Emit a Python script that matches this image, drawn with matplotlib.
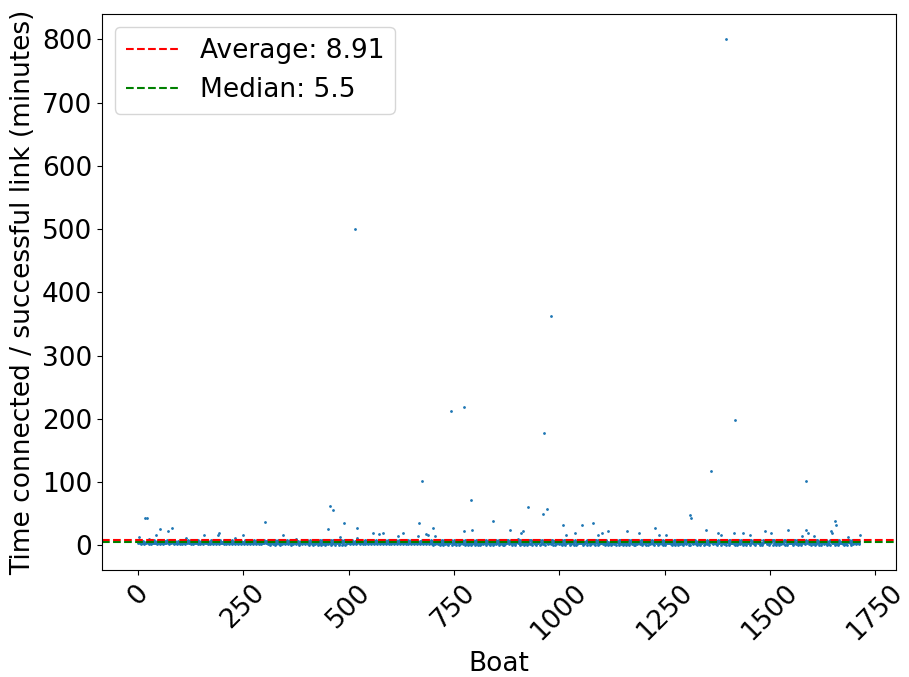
import matplotlib
matplotlib.use("Agg")
import matplotlib.pyplot as plt
import numpy as np

# typical minutes per boat (one char per boat, a=10, b=11, c=12)
bulk_minutes = """
4657345263 5734628453 3564724a36 4273654835 6345275643 5462374538 2645736458 3746253647 5384625374 6524736452
5374625843 4625b74658 3745628374 5263748536 4728354627 3845726354 8364527345 6273845362 7458362745 3627485364
6352847362 5473829465 3748265347 2b58463725 4638275463 7254836472 5384726359 4627358462 7358462735 4862735486
3527463592 4731654873 6254718265 4738256173 8256493825 3473825647 6825147382 5647a82564 7312564738 2564738296
8472615394 5627381946 2738495162 7384615927 4651738294 5629374815 6273849516 3748591627 4859162738 5916273849
3456247385 6243857263 4c58362745 8362547382 6574832657 4382657438 2657483265 7483265748 3265748326 5748326574
2635478263 5487263548 7263548726 3548726354 8726354872 6354872635 4872635487 2635487263 5487263548 7263548726
5163827495 3827469153 6294718352 4937281564 7382914653 2846173958 4619283745 8273649152 3956182473 6182739451
4728365194 6391827456 2847361935 7462918354 3819274659 5274639182 4963827154 1827364958 6293748156 3748291657
5a37462815 3829467152 7461835294 2938471563 6482917354 3759182643 8264739158 4917263845 2384916573 7152839462
6384729156 4291837564 8573619248 3947162835 5162839474 7839246153 2465718396 9381625437 4726391854 6158237493
3857264913 7294615832 4618392755 2943718564 5381947263 8162735941 3749281654 6927354183 1584723964 7236491853
4952837165 6173829454 3826471953 5947318264 7382651947 2619483753 8473629154 3592817463 6148392756 4726158394
2839465173 5174836294 7938261547 4265193876 3591847263 6827314958 1946372854 8352719464 4791628353 5263948175
7629183544 3485726193 6153928475 2947368154 8261735949 4718293654 3692817456 5837461923 2416937585 6973285144
4352697183 8726154394 5193847265 3648219757 7215938464 4837162953 6924583714 2581739466 9437261853 3762948155
5842763194 2968371545 7316485923 4593827164 6281749355 3947615283 8172936454 5638294172 2749163858 6415387294
348526473 562475
"""
bulk_minutes = [int(c, 16) for c in "".join(bulk_minutes.split())]

# boats far above the typical band
outlier_boats = [3, 16, 20, 43, 51, 70, 81, 157, 189, 193, 250, 302, 345, 450, 455, 462,
                 479, 488, 514, 519, 558, 571, 582, 618, 629, 664, 668, 673, 683, 688,
                 700, 706, 743, 773, 774, 790, 792, 843, 882, 910, 913, 925, 962, 965,
                 972, 981, 1009, 1016, 1038, 1054, 1080, 1092, 1101, 1117, 1161, 1189,
                 1228, 1238, 1254, 1310, 1313, 1348, 1360, 1378, 1385, 1396, 1414, 1418,
                 1436, 1454, 1488, 1503, 1543, 1576, 1585, 1586, 1590, 1605, 1645, 1648,
                 1654, 1658, 1686, 1714]
outlier_minutes = [13, 44, 43, 16, 26, 23, 28, 16, 17, 20, 17, 37, 17, 26, 63, 56,
                   14, 35, 500, 28, 19, 18, 20, 15, 20, 15, 35, 101, 18, 17,
                   28, 15, 213, 218, 22, 72, 25, 39, 25, 19, 22, 61, 49, 177,
                   58, 362, 33, 17, 19, 33, 36, 17, 19, 23, 22, 19,
                   27, 17, 16, 48, 43, 25, 118, 19, 17, 800, 19, 198,
                   19, 17, 23, 19, 25, 15, 25, 102, 19, 15, 22, 20,
                   39, 33, 13, 17]

average = 8.91
median = 5.5

minutes = np.array(bulk_minutes, dtype=float)
minutes[outlier_boats] = outlier_minutes
boats = np.arange(len(minutes))

fig = plt.figure(figsize=(9.09, 6.77), dpi=100)
ax = fig.add_axes([0.1122, 0.158, 0.8735, 0.8213])
ax.scatter(boats, minutes, s=1)
ax.axhline(average, color='r', linestyle='--', label=f'Average: {average}')
ax.axhline(median, color='g', linestyle='--', label=f'Median: {median}')
ax.set_xlabel('Boat', fontsize=19)
ax.set_ylabel('Time connected / successful link (minutes)', fontsize=19)
ax.tick_params(axis='both', labelsize=19)
plt.setp(ax.get_xticklabels(), rotation=45)
ax.legend(loc='upper left', fontsize=19)
fig.savefig('out.png', dpi=100)
